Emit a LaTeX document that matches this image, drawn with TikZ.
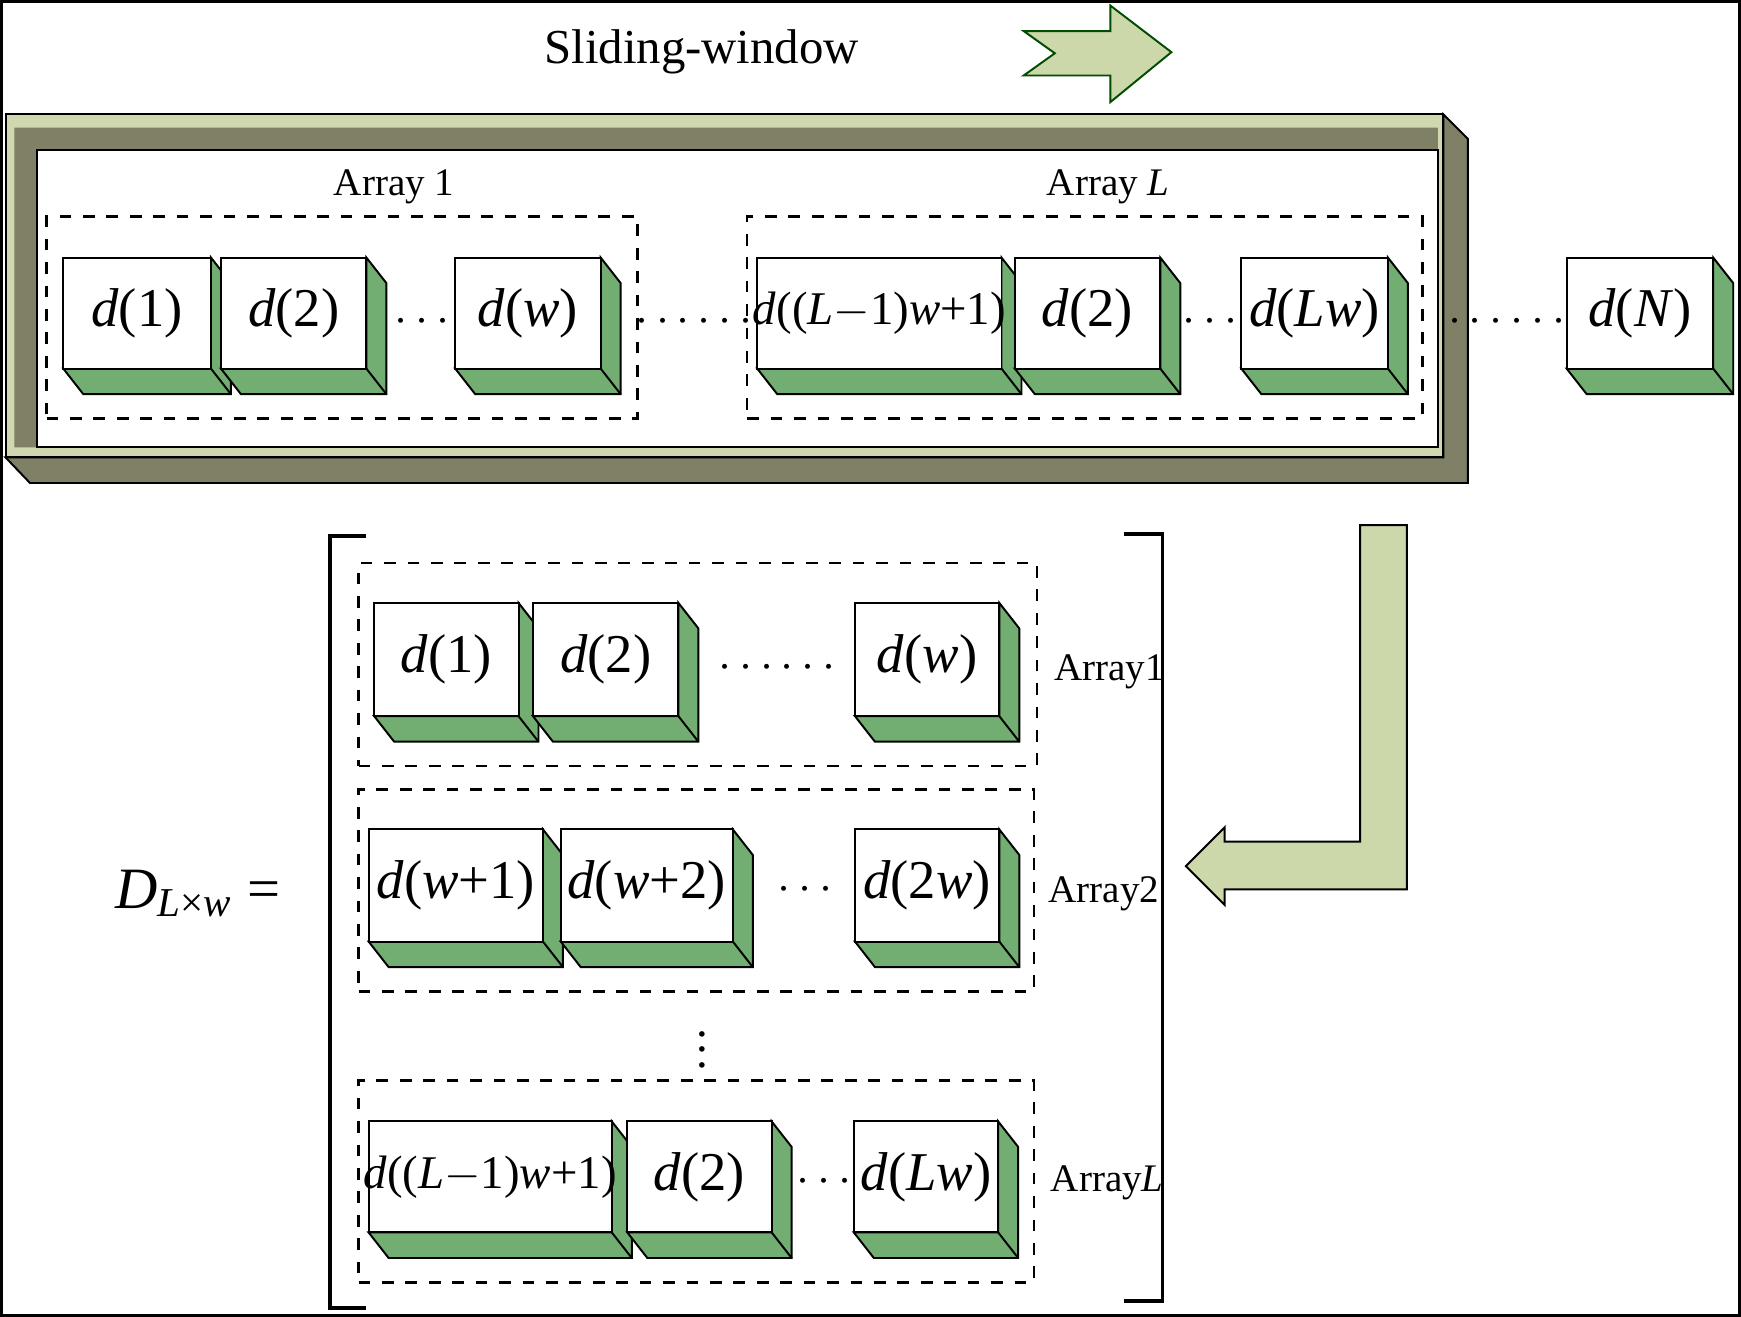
\documentclass[tikz,border=0pt]{standalone}
\usepackage{fontspec}
\setmainfont{Liberation Serif}
\usetikzlibrary{positioning,fit}
\definecolor{boxgreen}{RGB}{114,173,114}
\definecolor{framelight}{RGB}{208,216,176}
\definecolor{framedark}{RGB}{128,128,102}
\definecolor{arrowfill}{RGB}{204,216,170}
\tikzset{
  cube/.style={draw, fill=white, inner sep=0pt},
  cubetext/.style={font=\fontsize{14}{16}\selectfont, inner sep=0pt},
  group/.style={draw, dashed, line width=0.6pt},
  lbl/.style={font=\fontsize{10}{12}\selectfont},
  dots/.style={font=\fontsize{12}{14}\selectfont}
}
% cube: name, x1, y1, x2, y2, text
\newcommand\cube[6]{%
  \filldraw[fill=boxgreen] (#4,#3) -- ({#4+18},{#3+23}) -- ({#4+18},{#5+23})
     -- ({#2+18},{#5+23}) -- (#2,#5) -- (#4,#5) -- cycle;
  \draw (#4,#5) -- ({#4+18},{#5+23});
  \node[cube, fit={(#2,#3)(#4,#5)}] (#1) {};
  \node[cubetext] at (#1.center) {#6};
}
\begin{document}
\begin{tikzpicture}[x=0.01cm, y=-0.01cm, line width=0.5pt]
    \useasboundingbox (0,0) rectangle (1568,1186);
    \draw[line width=0.8pt] (1,1) rectangle (1567,1185);

    % title and arrow
    \node[font=\fontsize{12.5}{15}\selectfont] (title) at (632,47) {Sliding-window};
    \filldraw[fill=arrowfill, draw=black!70!green] (922,28) -- (1000,28) -- (1000,5)
        -- (1055,47) -- (1000,92) -- (1000,68) -- (922,68) -- (950,48) -- cycle;

    % frame
    \filldraw[fill=framelight] (5,103) rectangle (1300,412);
    \filldraw[fill=framedark] (1300,103) -- (1322,125) -- (1322,435) -- (27,435)
        -- (5,412) -- (1300,412) -- cycle;
    \fill[framedark] (13,115) -- (1295,115) -- (1295,135) -- (33,135) -- (33,403) -- (13,403) -- cycle;
    \filldraw[fill=white] (33,135) rectangle (1295,403);

    % top row
    \node[group, fit={(42,195)(574,377)}, inner sep=0pt] (top1) {};
    \node[group, fit={(673,195)(1281,377)}, inner sep=0pt] (topL) {};
    \node[lbl] (labtop1) at (355,168) {Array 1};
    \node[lbl] (labtopL) at (998,168) {Array \textit{L}};
    \cube{t1}{57}{232}{190}{332}{\textit{d}(1)}
    \cube{t2}{199}{232}{330}{332}{\textit{d}(2)}
    \cube{tw}{410}{232}{541}{332}{\textit{d}(\textit{w})}
    \cube{tLa}{682}{232}{902}{332}{\fontsize{12}{14}\selectfont\textit{d}((\textit{L}$-$1)\textit{w}+1)}
    \cube{tLb}{914}{232}{1045}{332}{\textit{d}(2)}
    \cube{tLw}{1118}{232}{1250}{332}{\textit{d}(\textit{Lw})}
    \cube{tN}{1411}{232}{1543}{332}{\textit{d}(\textit{N})}
    \node[dots] at (380,290) {$\cdots$};
    \node[dots] at (625,290) {$\cdots\cdots$};
    \node[dots] at (1090,290) {$\cdots$};
    \node[dots] at (1357,290) {$\cdots\cdots$};

    % L arrow
    \filldraw[fill=arrowfill] (1225,473) -- (1267,473) -- (1267,801) -- (1103,801)
        -- (1103,815) -- (1068,780) -- (1103,745) -- (1103,758) -- (1225,758) -- cycle;

    % matrix
    \draw[line width=1pt] (330,483) -- (297,483) -- (297,1178) -- (330,1178);
    \draw[line width=1pt] (1012,481) -- (1047,481) -- (1047,1172) -- (1012,1172);
    \node[font=\fontsize{15}{18}\selectfont] (D) at (178,805) {\textit{D}\textsubscript{\textit{L}×\textit{w}} =};

    \node[group, fit={(323,507)(934,690)}, inner sep=0pt] (r1) {};
    \node[group, fit={(323,711)(931,893)}, inner sep=0pt] (r2) {};
    \node[group, fit={(323,973)(931,1155)}, inner sep=0pt] (r3) {};
    \node[lbl, anchor=west, inner sep=1pt] at (945,605) {Array1};
    \node[lbl, anchor=west, inner sep=1pt] at (940,805) {Array2};
    \node[lbl, anchor=west, inner sep=1pt] at (942,1065) {Array\textit{L}};

    \cube{a1}{337}{543}{467}{645}{\textit{d}(1)}
    \cube{a2}{480}{543}{611}{645}{\textit{d}(2)}
    \cube{aw}{770}{543}{900}{645}{\textit{d}(\textit{w})}
    \node[dots] at (700,602) {$\cdots\cdots$};

    \cube{b1}{332}{747}{489}{848}{\textit{d}(\textit{w}+1)}
    \cube{b2}{505}{747}{660}{848}{\textit{d}(\textit{w}+2)}
    \cube{bw}{770}{747}{900}{848}{\textit{d}(2\textit{w})}
    \node[dots] at (725,802) {$\cdots$};

    \node[dots, inner sep=0pt] at (633,935) {$\vdots$};

    \cube{c1}{332}{1010}{551}{1110}{\fontsize{12}{14}\selectfont\textit{d}((\textit{L}$-$1)\textit{w}+1)}
    \cube{c2}{565}{1010}{695}{1110}{\textit{d}(2)}
    \cube{cw}{769}{1010}{899}{1110}{\textit{d}(\textit{Lw})}
    \node[dots] at (742,1065) {$\cdots$};
\end{tikzpicture}
\end{document}
